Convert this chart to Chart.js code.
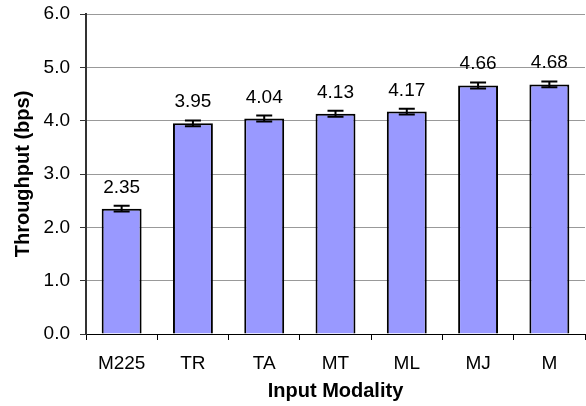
<!DOCTYPE html>
<html>
<head>
<meta charset="utf-8">
<script src="https://cdn.jsdelivr.net/npm/chart.js@4/dist/chart.umd.min.js"></script>
<style>
  html, body { margin: 0; padding: 0; background: #fff; }
  #wrap { width: 586px; height: 406px; }
</style>
</head>
<body>
<div id="wrap"><canvas id="chart"></canvas></div>
<script>
const modalities = ['M225', 'TR', 'TA', 'MT', 'ML', 'MJ', 'M'];
const throughput = [2.35, 3.95, 4.04, 4.13, 4.17, 4.66, 4.68];
const errors = [0.055, 0.055, 0.055, 0.055, 0.055, 0.055, 0.055];
const yTicks = [0, 1, 2, 3, 4, 5, 6];

const FONT = '"Liberation Sans", Arial, sans-serif';

// error bars + value labels drawn through the scales
const extras = {
  id: 'extras',
  afterDatasetsDraw(chart) {
    const ctx = chart.ctx;
    const x = chart.scales.x, y = chart.scales.y;
    ctx.save();
    throughput.forEach((v, i) => {
      const cx = x.getPixelForValue(i);
      const top = y.getPixelForValue(v + errors[i]);
      const bot = y.getPixelForValue(v - errors[i]);
      ctx.strokeStyle = '#000';
      ctx.lineWidth = 2;
      ctx.beginPath();
      ctx.moveTo(cx, top); ctx.lineTo(cx, bot);
      ctx.moveTo(cx - 8, top); ctx.lineTo(cx + 8, top);
      ctx.moveTo(cx - 8, bot); ctx.lineTo(cx + 8, bot);
      ctx.stroke();
      ctx.fillStyle = '#000';
      ctx.font = '19px ' + FONT;
      ctx.textAlign = 'center';
      ctx.textBaseline = 'alphabetic';
      ctx.fillText(v.toFixed(2), cx, y.getPixelForValue(v) - 16);
    });
    ctx.restore();
  }
};

new Chart(document.getElementById('chart'), {
  type: 'bar',
  data: {
    labels: modalities,
    datasets: [{
      data: throughput,
      backgroundColor: '#9999ff',
      borderColor: '#000',
      borderWidth: 2,
      borderSkipped: 'bottom',
      categoryPercentage: 1.0,
      barPercentage: 0.56
    }]
  },
  options: {
    responsive: true,
    maintainAspectRatio: false,
    animation: false,
    layout: { padding: { top: 14, right: 1, left: 0, bottom: 0 } },
    plugins: { legend: { display: false }, tooltip: { enabled: false } },
    scales: {
      x: {
        afterFit(s) { s.height = 72; s.paddingRight = 0; },
        grid: { drawOnChartArea: false, tickLength: 6, color: '#000' },
        border: { color: '#000', width: 1 },
        ticks: { color: '#000', padding: 12, font: { family: FONT, size: 19 } },
        title: { display: true, text: 'Input Modality', color: '#000', padding: { top: 0, bottom: 3 },
          font: { family: FONT, size: 20, weight: 'bold' } }
      },
      y: {
        min: 0, max: 6,
        afterBuildTicks(s) { s.ticks = yTicks.map(v => ({ value: v })); },
        afterFit(s) { s.width = 86; s.paddingTop = 0; s.paddingBottom = 0; },
        grid: { color: '#999', tickLength: 6, tickColor: '#333' },
        border: { color: '#333', width: 2 },
        ticks: { color: '#000', padding: 10, callback: v => v.toFixed(1),
          font: { family: FONT, size: 19 } },
        title: { display: true, text: 'Throughput (bps)', color: '#000', padding: { top: 11, bottom: 0 },
          font: { family: FONT, size: 20, weight: 'bold' } }
      }
    }
  },
  plugins: [extras]
});
</script>
</body>
</html>
